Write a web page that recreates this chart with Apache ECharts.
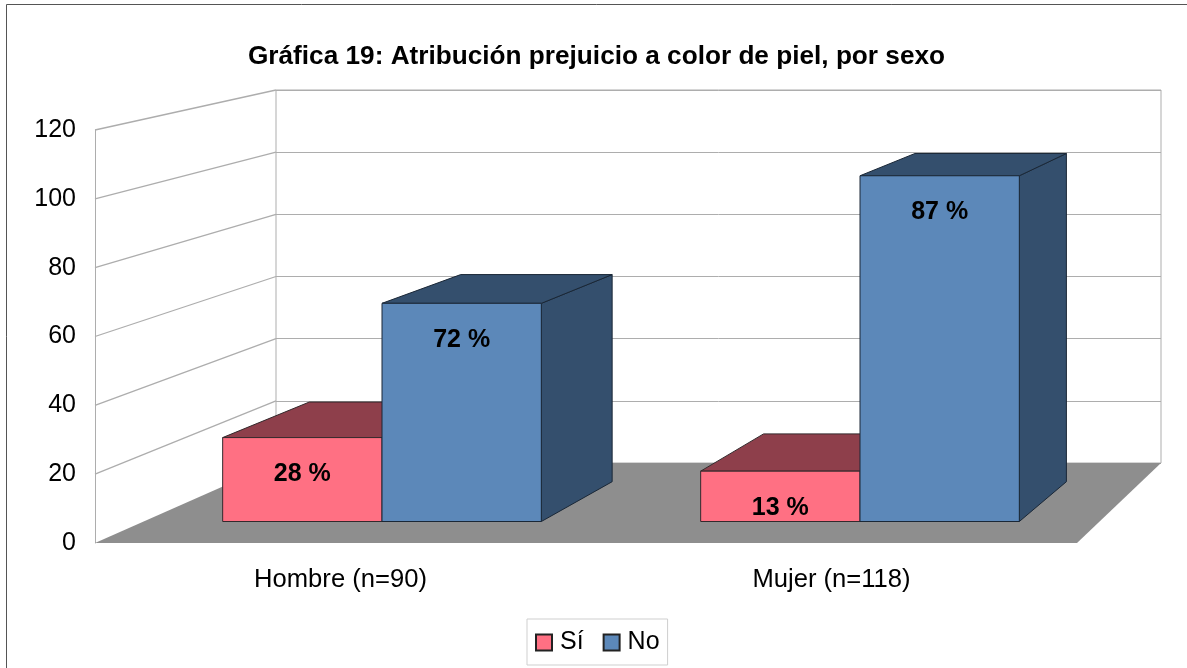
<!DOCTYPE html>
<html>
<head>
<meta charset="utf-8">
<style>html,body{margin:0;padding:0;background:#fff}#c{width:1187px;height:668px}</style>
<script src="https://cdn.jsdelivr.net/npm/echarts@6/dist/echarts.min.js"></script>
</head>
<body>
<div id="c"></div>
<script>
const categories = ['Hombre (n=90)', 'Mujer (n=118)'];
const siValues = [25, 15];
const noValues = [65, 103];
const siLabels = ['28 %', '13 %'];
const noLabels = ['72 %', '87 %'];
const yTicks = [0, 20, 40, 60, 80, 100, 120];
const titleText = 'Gráfica 19: Atribución prejuicio a color de piel, por sexo';

const FONT = '"Liberation Sans", Arial, sans-serif';
const GRID_COLOR = '#adadad';
const chart = echarts.init(document.getElementById('c'), null, {renderer: 'canvas'});

// depth planes, front to back: axis plane, bar front, bar back, back wall
const PL = {
  axis: {xAxisIndex: 1, yAxisIndex: 0},
  front: {xAxisIndex: 2, yAxisIndex: 1},
  back: {xAxisIndex: 3, yAxisIndex: 2},
  wall: {xAxisIndex: 4, yAxisIndex: 3}
};
const px = (plane, x, v) => chart.convertToPixel(PL[plane], [x, v]);

const hiddenX = (gridIndex, position) => ({type: 'value', gridIndex, min: 0, max: 6, show: false, position});
const hiddenY = (gridIndex) => ({type: 'value', gridIndex, min: 0, max: 120, interval: 20, show: false});

function poly(points, fill, stroke) {
  return {type: 'polygon', shape: {points}, style: {fill, stroke: stroke || null, lineWidth: stroke ? 1 : 0, lineJoin: 'round'}};
}

function scaffold(params, api) {
  const v = api.value(0);
  const children = [];
  if (params.dataIndex === 0) {
    children.push(poly([px('axis', 0, 0), px('axis', 6, 0), px('wall', 6, 0), px('wall', 0, 0)], '#8e8e8e'));
  } else {
    const a = px('axis', 0, v), b = px('wall', 0, v);
    children.push({type: 'line', shape: {x1: a[0], y1: a[1], x2: b[0], y2: b[1]}, style: {stroke: GRID_COLOR, lineWidth: 1.3}});
  }
  return {type: 'group', children};
}

function barRenderer(faceColor, darkColor, edgeColor) {
  return function (params, api) {
    const x0 = api.value(0), x1 = x0 + 1, v = api.value(1), label = api.value(2);
    const fb0 = px('front', x0, 0), fb1 = px('front', x1, 0), ft0 = px('front', x0, v), ft1 = px('front', x1, v);
    const bb1 = px('back', x1, 0), bt0 = px('back', x0, v), bt1 = px('back', x1, v);
    return {
      type: 'group',
      children: [
        poly([fb1, bb1, bt1, ft1], darkColor, edgeColor),
        poly([ft0, ft1, bt1, bt0], darkColor, edgeColor),
        poly([ft0, ft1, fb1, fb0], faceColor, edgeColor),
        {type: 'text', style: {
          x: (ft0[0] + ft1[0]) / 2, y: ft0[1] + 36.5, text: label,
          fill: '#000', font: 'bold 25px ' + FONT, align: 'center', verticalAlign: 'middle'
        }}
      ]
    };
  };
}

const barData = (values, labels, offset) => values.map((v, i) => [3 * i + 0.5 + offset, v, labels[i]]);

chart.setOption({
  animation: false,
  backgroundColor: '#fff',
  title: {
    text: titleText, left: 591.5, top: 39, textAlign: 'center',
    textStyle: {fontFamily: FONT, fontWeight: 'bold', fontSize: 26.2, color: '#000'}
  },
  legend: {
    data: ['Sí', 'No'], left: 527, top: 619, orient: 'horizontal',
    padding: [11, 8, 10, 8], itemWidth: 16, itemHeight: 16, itemGap: 19,
    borderColor: '#cfcfcf', borderWidth: 1, backgroundColor: '#fff', icon: 'rect',
    textStyle: {fontFamily: FONT, fontSize: 25, color: '#000', padding: [0, 0, 0, 3]}
  },
  grid: [
    {left: 95, top: 130, width: 982, height: 413},
    {left: 143, top: 118.7, width: 956, height: 402.8},
    {left: 233.6, top: 99.3, width: 908.5, height: 382.4},
    {left: 276, top: 90, width: 885, height: 373, show: true, borderColor: GRID_COLOR, borderWidth: 1, backgroundColor: 'transparent'}
  ],
  xAxis: [
    {type: 'category', gridIndex: 0, data: categories, position: 'bottom',
      axisLine: {show: false}, axisTick: {show: false}, splitLine: {show: false},
      axisLabel: {fontFamily: FONT, fontSize: 25.6, color: '#000', margin: 24}},
    hiddenX(0, 'top'), hiddenX(1, 'bottom'), hiddenX(2, 'bottom'), hiddenX(3, 'bottom')
  ],
  yAxis: [
    {type: 'value', gridIndex: 0, min: 0, max: 120, interval: 20,
      axisLine: {show: true, lineStyle: {color: GRID_COLOR, width: 1}}, axisTick: {show: false}, splitLine: {show: false},
      axisLabel: {fontFamily: FONT, fontSize: 25, color: '#000', margin: 19, lineHeight: 28, padding: [6, 0, 0, 0]}},
    hiddenY(1), hiddenY(2),
    {type: 'value', gridIndex: 3, min: 0, max: 120, interval: 20,
      axisLine: {show: false}, axisTick: {show: false}, axisLabel: {show: false},
      splitLine: {show: true, lineStyle: {color: GRID_COLOR, width: 1}}}
  ],
  series: [
    {type: 'custom', name: 'Paredes', xAxisIndex: 4, yAxisIndex: 3, z: 1, silent: true,
      data: yTicks.map(v => [v]), encode: {y: 0}, renderItem: scaffold},
    {type: 'custom', name: 'Sí', xAxisIndex: 2, yAxisIndex: 1, z: 2,
      itemStyle: {color: '#ff7083', borderColor: '#222', borderWidth: 1},
      data: barData(siValues, siLabels, 0), encode: {x: 0, y: 1},
      renderItem: barRenderer('#ff7083', '#8e3f4b', '#33292c')},
    {type: 'custom', name: 'No', xAxisIndex: 2, yAxisIndex: 1, z: 3,
      itemStyle: {color: '#5c88b9', borderColor: '#222', borderWidth: 1},
      data: barData(noValues, noLabels, 1), encode: {x: 0, y: 1},
      renderItem: barRenderer('#5c88b9', '#344f6d', '#1a2736')}
  ],
  graphic: [
    {type: 'line', silent: true, shape: {x1: 6.5, y1: 4.5, x2: 1187, y2: 4.5}, style: {stroke: '#555', lineWidth: 1}},
    {type: 'line', silent: true, shape: {x1: 6.5, y1: 4.5, x2: 6.5, y2: 668}, style: {stroke: '#555', lineWidth: 1}}
  ]
});
</script>
</body>
</html>
